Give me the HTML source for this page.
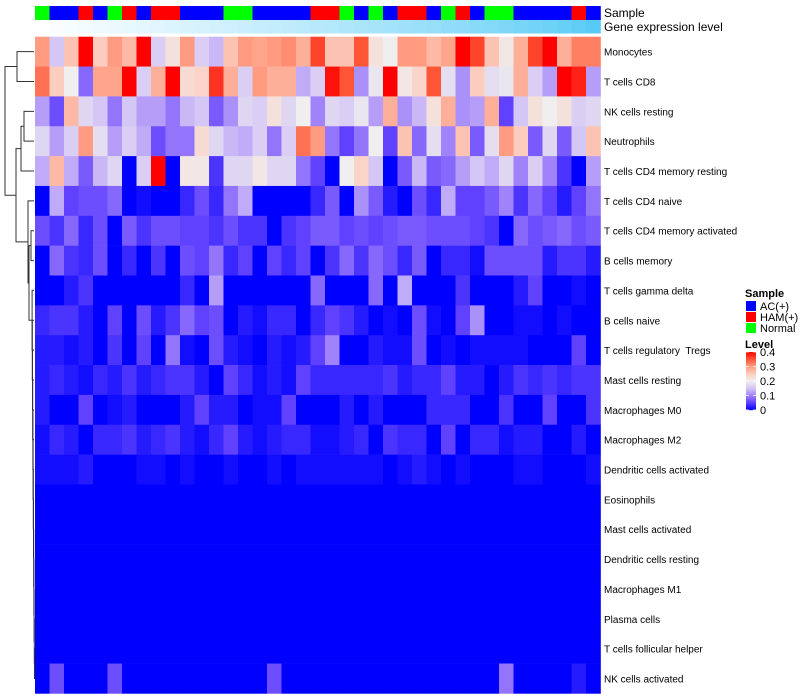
<!DOCTYPE html>
<html><head><meta charset="utf-8"><style>
html,body{margin:0;padding:0;background:#fff;}
svg{display:block;font-family:"Liberation Sans",sans-serif;}
text{white-space:pre;}
</style></head><body>
<svg id="chart" width="800" height="700" viewBox="0 0 800 700">
<g id="dendro"></g>
<g id="ann"></g>
<g id="cells"></g>
<g id="rlabels"></g>
<g id="legend"></g>
</svg>
<script>
const rowNames=["Monocytes","T cells CD8","NK cells resting","Neutrophils","T cells CD4 memory resting","T cells CD4 naive","T cells CD4 memory activated","B cells memory","T cells gamma delta","B cells naive","T cells regulatory  Tregs","Mast cells resting","Macrophages M0","Macrophages M2","Dendritic cells activated","Eosinophils","Mast cells activated","Dendritic cells resting","Macrophages M1","Plasma cells","T cells follicular helper","NK cells activated"];
const sampleGroups="G B B R B G R B R R B B B G G B B B B R R G B G B R R B G R B G G B B B B R B".split(" ");
const geneLevel=[0,0.03,0.05,0.07,0.09,0.11,0.13,0.15,0.17,0.19,0.21,0.23,0.25,0.27,0.29,0.31,0.33,0.35,0.37,0.39,0.41,0.43,0.46,0.48,0.5,0.52,0.55,0.57,0.6,0.62,0.65,0.67,0.7,0.73,0.76,0.79,0.83,0.87,0.92];
const r1=[0.3,0.15,0.26,0.4,0.25,0.3,0.27,0.4,0.16,0.22,0.3,0.16,0.14,0.26,0.3,0.29,0.3,0.31,0.28,0.36,0.26,0.26,0.35,0.22,0.2,0.3,0.3,0.27,0.29,0.4,0.36,0.26,0.21,0.28,0.36,0.4,0.28,0.32,0.32];
const r2=[0.33,0.25,0.2,0.08,0.29,0.29,0.4,0.16,0.28,0.4,0.23,0.24,0.37,0.28,0.16,0.3,0.28,0.28,0.13,0.16,0.39,0.35,0.11,0.19,0.4,0.21,0.24,0.35,0.18,0.11,0.25,0.18,0.19,0.28,0.16,0.12,0.4,0.38,0.12];
const r3=[0.12,0.06,0.27,0.17,0.15,0.09,0.15,0.12,0.12,0.09,0.14,0.15,0.07,0.11,0.17,0.16,0.22,0.17,0.2,0.1,0.17,0.16,0.19,0.12,0.28,0.11,0.14,0.22,0.28,0.11,0.12,0.28,0.05,0.15,0.22,0.2,0.22,0.16,0.17];
const r4=[0.17,0.12,0.16,0.3,0.18,0.12,0.16,0.13,0.06,0.09,0.09,0.23,0.17,0.14,0.13,0.16,0.09,0.16,0.33,0.3,0.09,0.05,0.09,0.2,0.05,0.26,0.08,0.18,0.1,0.26,0.07,0.18,0.3,0.25,0.07,0.17,0.07,0.15,0.26];
const r5=[0.13,0.27,0.13,0.07,0.14,0.17,0,0.16,0.4,0,0.21,0.21,0.04,0.17,0.17,0.21,0.17,0.17,0.09,0.05,0,0.2,0.24,0.15,0,0.07,0.14,0.07,0.08,0.12,0.15,0.13,0.17,0.1,0.16,0.1,0.04,0,0.12];
const r6=[0,0.13,0.05,0.06,0.06,0.08,0,0.01,0,0,0.03,0.06,0.03,0.09,0.13,0,0,0,0,0.03,0.07,0,0.11,0.07,0.02,0,0.06,0.03,0.13,0.05,0.05,0.07,0.1,0.04,0.08,0.05,0.02,0.05,0.09];
const r7=[0.06,0.04,0.08,0.03,0.06,0,0.07,0.04,0.06,0.06,0.05,0.05,0.04,0.06,0.04,0.04,0,0.04,0.05,0.07,0.07,0.05,0.06,0.05,0.06,0.07,0.07,0.06,0.06,0.06,0.05,0.04,0,0.08,0.06,0.07,0.08,0.06,0.07];
const r8=[0,0.08,0.04,0.03,0.06,0,0.03,0,0.04,0,0.06,0.05,0.09,0.03,0.05,0,0.05,0.03,0.05,0,0.04,0.08,0.04,0.08,0.06,0.03,0.07,0,0.03,0.03,0.01,0.06,0.06,0.06,0.06,0.02,0.04,0.04,0.02];
const r9=[0,0,0.02,0.04,0,0,0,0,0,0,0.03,0,0.12,0,0,0,0,0,0,0.08,0,0,0,0.08,0,0.13,0,0,0,0.04,0,0,0,0.02,0.05,0,0,0.01,0];
const r10=[0.03,0.04,0.04,0.02,0,0.05,0,0.06,0.02,0.04,0.08,0.05,0.06,0,0.02,0.01,0.03,0.03,0,0.03,0.05,0.04,0.02,0,0.01,0,0.06,0.01,0,0.05,0.11,0,0,0.01,0.01,0,0.01,0,0];
const r11=[0.02,0.02,0.01,0.02,0,0.04,0,0.05,0,0.09,0.01,0,0.06,0.02,0.01,0,0.02,0.01,0.02,0.05,0.1,0,0,0.02,0.01,0.01,0.06,0,0.01,0,0.01,0.01,0.01,0.01,0,0,0,0.05,0];
const r12=[0.02,0.03,0.02,0.01,0.03,0.02,0.04,0.02,0.03,0.04,0.04,0.02,0,0.05,0.03,0.01,0.02,0.01,0.05,0.03,0.03,0.03,0.03,0.03,0.04,0.02,0.03,0.03,0.05,0.02,0.02,0,0.02,0.04,0.03,0.04,0.03,0.04,0.04];
const r13=[0.02,0,0,0.05,0,0.01,0.02,0,0,0,0.02,0.05,0.02,0.02,0,0.01,0.01,0.05,0,0,0,0.02,0,0.02,0,0,0,0.03,0.03,0.03,0,0,0.04,0,0,0.05,0,0,0.04];
const r14=[0.01,0.03,0.02,0,0.03,0.03,0.04,0.02,0.03,0.04,0.02,0.01,0.03,0.05,0.02,0.01,0.02,0.03,0.03,0.01,0.01,0.02,0.03,0,0.04,0.03,0.03,0,0.05,0,0.03,0.03,0.01,0.02,0.02,0,0,0.02,0];
const r15=[0.01,0.01,0.01,0.02,0,0,0,0.01,0.01,0,0.01,0,0,0.01,0,0,0.01,0,0.01,0.01,0.01,0.01,0.01,0.01,0,0.01,0.02,0.01,0,0.01,0,0,0,0.01,0.01,0,0,0,0.01];
const zeros=new Array(39).fill(0);
const r22=[0,0.06,0,0,0,0.06,0,0,0,0,0,0,0,0,0,0,0.06,0,0,0,0,0,0,0,0,0,0,0,0,0,0,0,0.09,0,0,0,0,0.02,0];
const values=[r1,r2,r3,r4,r5,r6,r7,r8,r9,r10,r11,r12,r13,r14,r15,zeros,zeros,zeros,zeros,zeros,zeros,r22];
const levelTicks=[0,0.1,0.2,0.3,0.4];

const NS="http://www.w3.org/2000/svg";
const X0=35,CW=14.5,Y0=36.7,RH=29.85;
function xs(j){return X0+j*CW;}
function ys(i){return Y0+i*RH;}
function mk(tag,attrs,parent){const e=document.createElementNS(NS,tag);for(const k in attrs)e.setAttribute(k,attrs[k]);parent.appendChild(e);return e;}
const stops=[[0,[0,0,255]],[0.05,[95,65,255]],[0.1,[160,130,250]],[0.15,[212,198,245]],[0.2,[240,238,238]],[0.25,[252,205,190]],[0.3,[255,155,128]],[0.35,[255,85,55]],[0.4,[255,0,0]]];
function col(v){v=Math.max(0,Math.min(0.4,v));for(let k=1;k<stops.length;k++){if(v<=stops[k][0]){const a=stops[k-1],b=stops[k];const t=(v-a[0])/(b[0]-a[0]);return "rgb("+a[1].map((c,i)=>Math.round(c+(b[1][i]-c)*t)).join(",")+")";}}return "rgb(255,0,0)";}
const grpCol={G:"#00FF00",B:"#0000FF",R:"#FF0000"};

const cells=document.getElementById("cells");
values.forEach((row,i)=>row.forEach((v,j)=>{
  const r=mk("rect",{x:xs(j),y:ys(i),width:CW+0.3,height:RH+0.3,fill:col(v)},cells);
  
  
}));
const ann=document.getElementById("ann");
sampleGroups.forEach((g,j)=>{
  const r=mk("rect",{x:xs(j),y:6,width:CW+0.3,height:14,fill:grpCol[g]},ann);
  
  
});
geneLevel.forEach((v,j)=>{
  const c=[Math.round(255-(255-72)*v),Math.round(255-(255-198)*v),Math.round(255-(255-245)*v)];
  const r=mk("rect",{x:xs(j),y:20,width:CW+0.3,height:13.5,fill:"rgb("+c.join(",")+")"},ann);
  
  
});
const t1=mk("text",{x:604,y:17,"font-size":12,fill:"#000"},ann);t1.textContent="Sample";


const t2=mk("text",{x:604,y:31,"font-size":12,fill:"#000"},ann);t2.textContent="Gene expression level";



const rl=document.getElementById("rlabels");
rowNames.forEach((n,i)=>{
  const t=mk("text",{x:604,y:ys(i)+RH/2+4,"font-size":10,fill:"#000"},rl);
  t.textContent=n;
  
  
});

// dendrogram
function L(i){return {leaf:i};}
function N(h,a,b){return {h:h,l:a,r:b};}
let F=L(21);
for(let i=20;i>=8;i--){F=N(34.5-(20-i)*0.2,L(i),F);}
const tree=N(5,N(17,L(0),L(1)),N(16,N(21,N(24,L(2),L(3)),L(4)),N(28,L(5),N(29,N(31,L(6),L(7)),F))));
const dg=document.getElementById("dendro");
function draw(n){
  if(n.leaf!==undefined)return {y:ys(n.leaf)+RH/2,x:34};
  const a=draw(n.l),b=draw(n.r);
  const p=mk("path",{d:"M"+a.x+" "+a.y+"H"+n.h+"V"+b.y+"H"+b.x,fill:"none",stroke:"#333","stroke-width":1},dg);
  
  
  return {y:(a.y+b.y)/2,x:n.h};
}
draw(tree);

// legend
const lg=document.getElementById("legend");
const st=mk("text",{x:745,y:297,"font-size":11,"font-weight":"bold"},lg);st.textContent="Sample";


[["B","AC(+)"],["R","HAM(+)"],["G","Normal"]].forEach((e,k)=>{
  const r=mk("rect",{x:746,y:301+k*11,width:10,height:10,fill:grpCol[e[0]]},lg);
  
  
  const t=mk("text",{x:760,y:310+k*11,"font-size":11},lg);t.textContent=e[1];
  
  
});
const lt=mk("text",{x:745,y:348,"font-size":11,"font-weight":"bold"},lg);lt.textContent="Level";


const cbTop=352,cbBot=410,cbMin=0,cbMax=0.4;
function cy(v){return cbBot-(v-cbMin)/(cbMax-cbMin)*(cbBot-cbTop);}
for(let k=0;k<58;k++){
  const v=cbMax-(k+0.5)/58*(cbMax-cbMin);
  const r=mk("rect",{x:746,y:cbTop+k,width:10,height:1.2,fill:col(v)},lg);
  
  
}
levelTicks.forEach(v=>{
  const y=cy(v);
  const l=mk("line",{x1:746,x2:749,y1:y,y2:y,stroke:"#fff","stroke-width":0.8},lg);
  
  
  const l2=mk("line",{x1:753,x2:756,y1:y,y2:y,stroke:"#fff","stroke-width":0.8},lg);
  
  
  const t=mk("text",{x:760,y:y+4,"font-size":11},lg);t.textContent=String(v);
  
  
});
</script>
</body></html>
